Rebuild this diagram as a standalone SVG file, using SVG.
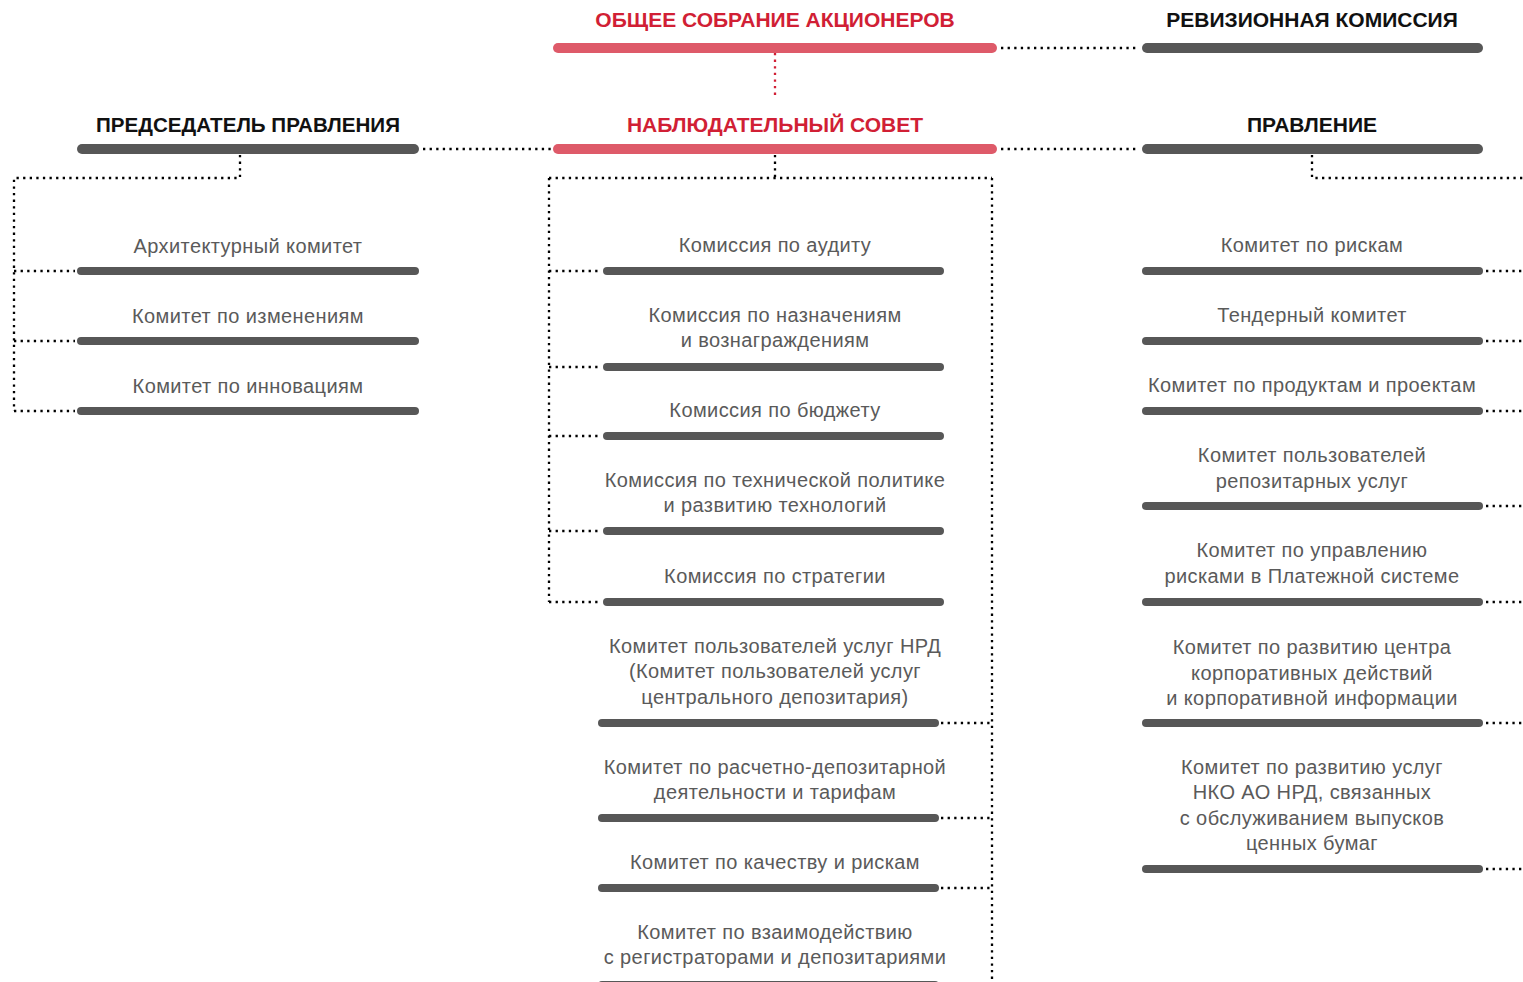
<svg xmlns="http://www.w3.org/2000/svg" width="1523" height="982" viewBox="0 0 1523 982">
<style>
.bg{fill:#ffffff}
.hdr{font-family:"Liberation Sans",Arial,sans-serif;font-weight:bold;font-size:21px;text-anchor:middle}
.red{fill:#d11f35}
.blk{fill:#111111}
.txt{font-family:"Liberation Sans",Arial,sans-serif;font-size:20px;letter-spacing:0.4px;fill:#5a5a5a;text-anchor:middle}
.bigbar{stroke-width:10;stroke-linecap:round;fill:none}
.rbar{stroke:#de5a69}
.gbar{stroke:#575757}
.cbar{stroke:#575757;stroke-width:8;stroke-linecap:round;fill:none}
.dot{stroke:#000000;stroke-width:2.3;stroke-dasharray:2.3 4.3;fill:none}
.rdot{stroke:#d11f35;stroke-width:2.3;stroke-dasharray:2.3 4.3;fill:none}
</style>
<rect class="bg" x="0" y="0" width="1523" height="982"/>

<g id="connectors">
  <path class="rdot" d="M775 53 V98"/>
  <path class="dot" d="M1001 48 H1138"/>
  <path class="dot" d="M423 149 H551"/>
  <path class="dot" d="M1001 149 H1138"/>
  <!-- left tree -->
  <path class="dot" d="M240 155 V178 H14 V411"/>
  <path class="dot" d="M14 271 H75"/>
  <path class="dot" d="M14 341 H75"/>
  <path class="dot" d="M14 411 H75"/>
  <!-- middle tree -->
  <path class="dot" d="M775 155 V178"/>
  <path class="dot" d="M549 178 H992"/>
  <path class="dot" d="M549 178 V602"/>
  <path class="dot" d="M992 178 V982"/>
  <path class="dot" d="M549 271 H601"/>
  <path class="dot" d="M549 367 H601"/>
  <path class="dot" d="M549 436 H601"/>
  <path class="dot" d="M549 531 H601"/>
  <path class="dot" d="M549 602 H601"/>
  <path class="dot" d="M941 723 H992"/>
  <path class="dot" d="M941 818 H992"/>
  <path class="dot" d="M941 888 H992"/>
  <!-- right tree -->
  <path class="dot" d="M1312 155 V178 H1523"/>
  <path class="dot" d="M1486 271 H1523"/>
  <path class="dot" d="M1486 341 H1523"/>
  <path class="dot" d="M1486 411 H1523"/>
  <path class="dot" d="M1486 506 H1523"/>
  <path class="dot" d="M1486 602 H1523"/>
  <path class="dot" d="M1486 723 H1523"/>
  <path class="dot" d="M1486 869 H1523"/>
</g>

<g id="n-gsm">
  <text class="hdr red" x="775" y="27">ОБЩЕЕ СОБРАНИЕ АКЦИОНЕРОВ</text>
  <path class="bigbar rbar" d="M558 48 H992"/>
</g>
<g id="n-rev">
  <text class="hdr blk" x="1312" y="27">РЕВИЗИОННАЯ КОМИССИЯ</text>
  <path class="bigbar gbar" d="M1147 48 H1478"/>
</g>
<g id="n-chair">
  <text class="hdr blk" x="248" y="132" style="font-size:20.6px">ПРЕДСЕДАТЕЛЬ ПРАВЛЕНИЯ</text>
  <path class="bigbar gbar" d="M82 149 H414"/>
</g>
<g id="n-board">
  <text class="hdr red" x="775" y="132">НАБЛЮДАТЕЛЬНЫЙ СОВЕТ</text>
  <path class="bigbar rbar" d="M558 149 H992"/>
</g>
<g id="n-mgmt">
  <text class="hdr blk" x="1312" y="132">ПРАВЛЕНИЕ</text>
  <path class="bigbar gbar" d="M1147 149 H1478"/>
</g>

<!-- left column -->
<g id="n-arch">
  <text class="txt" x="248" y="253">Архитектурный комитет</text>
  <path class="cbar" d="M81 271 H415"/>
</g>
<g id="n-changes">
  <text class="txt" x="248" y="323">Комитет по изменениям</text>
  <path class="cbar" d="M81 341 H415"/>
</g>
<g id="n-innov">
  <text class="txt" x="248" y="393">Комитет по инновациям</text>
  <path class="cbar" d="M81 411 H415"/>
</g>

<!-- middle column -->
<g id="n-audit">
  <text class="txt" x="775" y="252">Комиссия по аудиту</text>
  <path class="cbar" d="M607 271 H940"/>
</g>
<g id="n-nom">
  <text class="txt" x="775" y="322">Комиссия по назначениям</text>
  <text class="txt" x="775" y="347">и вознаграждениям</text>
  <path class="cbar" d="M607 367 H940"/>
</g>
<g id="n-budget">
  <text class="txt" x="775" y="417">Комиссия по бюджету</text>
  <path class="cbar" d="M607 436 H940"/>
</g>
<g id="n-tech">
  <text class="txt" x="775" y="487">Комиссия по технической политике</text>
  <text class="txt" x="775" y="512">и развитию технологий</text>
  <path class="cbar" d="M607 531 H940"/>
</g>
<g id="n-strat">
  <text class="txt" x="775" y="583">Комиссия по стратегии</text>
  <path class="cbar" d="M607 602 H940"/>
</g>
<g id="n-users">
  <text class="txt" x="775" y="653">Комитет пользователей услуг НРД</text>
  <text class="txt" x="775" y="678">(Комитет пользователей услуг</text>
  <text class="txt" x="775" y="704">центрального депозитария)</text>
  <path class="cbar" d="M602 723 H935"/>
</g>
<g id="n-settle">
  <text class="txt" x="775" y="774">Комитет по расчетно-депозитарной</text>
  <text class="txt" x="775" y="799">деятельности и тарифам</text>
  <path class="cbar" d="M602 818 H935"/>
</g>
<g id="n-quality">
  <text class="txt" x="775" y="869">Комитет по качеству и рискам</text>
  <path class="cbar" d="M602 888 H935"/>
</g>
<g id="n-registr">
  <text class="txt" x="775" y="939">Комитет по взаимодействию</text>
  <text class="txt" x="775" y="964">с регистраторами и депозитариями</text>
  <path class="cbar" d="M602 985 H935"/>
</g>

<!-- right column -->
<g id="n-risk">
  <text class="txt" x="1312" y="252">Комитет по рискам</text>
  <path class="cbar" d="M1146 271 H1479"/>
</g>
<g id="n-tender">
  <text class="txt" x="1312" y="322">Тендерный комитет</text>
  <path class="cbar" d="M1146 341 H1479"/>
</g>
<g id="n-products">
  <text class="txt" x="1312" y="392">Комитет по продуктам и проектам</text>
  <path class="cbar" d="M1146 411 H1479"/>
</g>
<g id="n-repo">
  <text class="txt" x="1312" y="462">Комитет пользователей</text>
  <text class="txt" x="1312" y="488">репозитарных услуг</text>
  <path class="cbar" d="M1146 506 H1479"/>
</g>
<g id="n-payrisk">
  <text class="txt" x="1312" y="557">Комитет по управлению</text>
  <text class="txt" x="1312" y="583">рисками в Платежной системе</text>
  <path class="cbar" d="M1146 602 H1479"/>
</g>
<g id="n-corp">
  <text class="txt" x="1312" y="654">Комитет по развитию центра</text>
  <text class="txt" x="1312" y="680">корпоративных действий</text>
  <text class="txt" x="1312" y="705">и корпоративной информации</text>
  <path class="cbar" d="M1146 723 H1479"/>
</g>
<g id="n-issues">
  <text class="txt" x="1312" y="774">Комитет по развитию услуг</text>
  <text class="txt" x="1312" y="799">НКО АО НРД, связанных</text>
  <text class="txt" x="1312" y="825">с обслуживанием выпусков</text>
  <text class="txt" x="1312" y="850">ценных бумаг</text>
  <path class="cbar" d="M1146 869 H1479"/>
</g>
</svg>
